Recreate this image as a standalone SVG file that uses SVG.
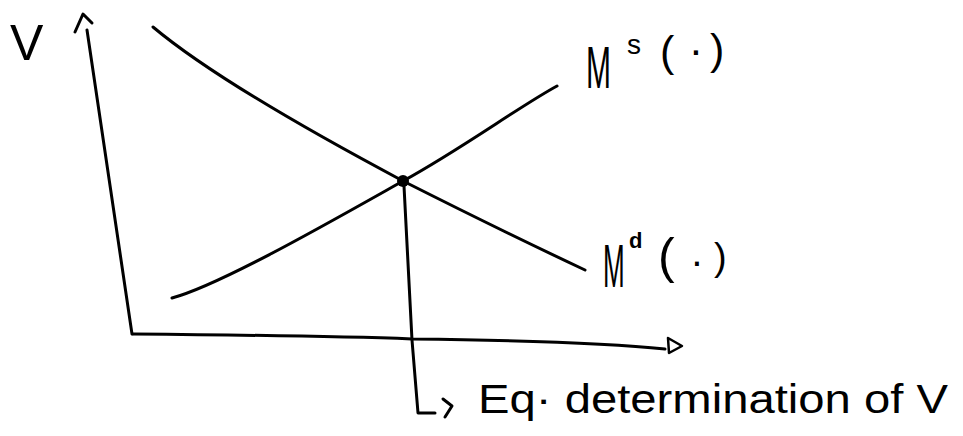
<svg xmlns="http://www.w3.org/2000/svg" width="963" height="436" viewBox="0 0 963 436">
<style>
.ln{fill:none;stroke:#000;stroke-width:3;stroke-linecap:round;stroke-linejoin:round}
.tx{font-family:"Liberation Sans","DejaVu Sans",sans-serif;fill:#000}
</style>
<rect width="963" height="436" fill="#fff"/>
<g id="axes">
  <path class="ln" d="M87,30 L132,334"/>
  <path class="ln" d="M75,32 L83,14 L92,23"/>
  <path class="ln" d="M133,334 C250,335 360,337 412,339 C500,340 600,342 665,349"/>
  <path class="ln" style="stroke-width:2.5" d="M668,338 L682,346 L669,353 Z"/>
</g>
<g id="curves">
  <path id="demand" class="ln" d="M153,27 C190,58 260,105 403,181 Q500,230 585,270"/>
  <path id="supply" class="ln" d="M172,298 C220,285 330,222 403,181 C460,150 520,106 557,86"/>
</g>
<g id="equilibrium">
  <circle cx="403" cy="181" r="6" fill="#000"/>
</g>
<g id="connectors">
  <path class="ln" d="M404,186 L412,340 L418,413 L435,413"/>
  <path class="ln" d="M443,399 L452,406 L445,417"/>
</g>
<g id="labels">
  <text class="tx" x="10" y="60" font-size="50">V</text>
  <g id="Ms">
    <text class="tx" transform="translate(586,88) scale(0.5,1)" x="0" y="0" font-size="60">M</text>
    <text class="tx" x="627" y="54" font-size="28">s</text>
    <text class="tx" x="660" y="66" font-size="43">(</text>
    <text class="tx" x="696" y="64" font-size="43" text-anchor="middle">·</text>
    <text class="tx" x="710" y="64" font-size="43">)</text>
  </g>
  <g id="Md">
    <text class="tx" transform="translate(603,287) scale(0.42,1)" x="0" y="0" font-size="62">M</text>
    <text class="tx" x="629" y="248" font-size="22" font-weight="bold">d</text>
    <text class="tx" x="658" y="273" font-size="50">(</text>
    <text class="tx" x="697" y="275" font-size="40" text-anchor="middle">·</text>
    <text class="tx" x="714" y="270" font-size="38">)</text>
  </g>
  <text class="tx" x="478" y="413" font-size="40" textLength="470" lengthAdjust="spacingAndGlyphs">Eq· determination of V</text>
</g>
</svg>
